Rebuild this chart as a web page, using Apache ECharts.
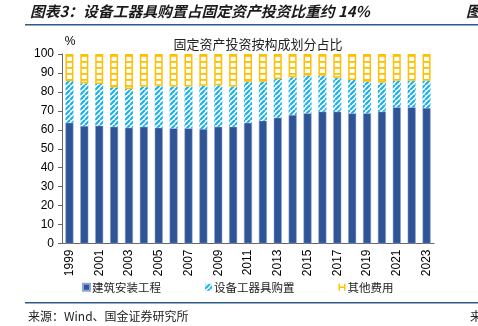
<!DOCTYPE html>
<html><head><meta charset="utf-8">
<script src="https://cdn.jsdelivr.net/npm/echarts@6/dist/echarts.min.js"></script>
<style>html,body{margin:0;padding:0;background:#fff}#c{width:478px;height:326px}</style>
</head><body><div id="c"></div>
<script>
const years = ['1999','2000','2001','2002','2003','2004','2005','2006','2007','2008','2009','2010','2011','2012','2013','2014','2015','2016','2017','2018','2019','2020','2021','2022','2023'];
const construction = [63.7,62.0,62.2,61.6,61.1,61.6,61.1,60.8,60.8,60.4,61.6,61.6,63.7,64.8,66.4,67.8,68.7,69.6,69.6,68.7,68.7,69.6,71.9,71.9,71.5];
const equipment = [22.0,22.5,22.0,20.8,20.4,21.2,22.2,22.0,22.0,22.9,21.9,21.2,21.7,20.6,20.4,19.9,19.9,19.0,17.9,17.6,16.7,15.3,14.0,14.0,14.4];
const other = [14.3,15.5,15.8,17.6,18.5,17.2,16.7,17.2,17.2,16.7,16.5,17.2,14.6,14.6,13.2,12.3,11.4,11.4,12.5,13.7,14.6,15.1,14.1,14.1,14.1];
const seriesNames = ['建筑安装工程','设备工器具购置','其他费用'];

function stripe(){
  const c=document.createElement('canvas');c.width=5;c.height=5;
  const g=c.getContext('2d');g.fillStyle='#fff';g.fillRect(0,0,5,5);
  g.strokeStyle='#1EB0E8';g.lineWidth=2.2;g.beginPath();
  for(const k of [-5,0,5,10]){g.moveTo(k-5,5);g.lineTo(k,0);}
  g.stroke();return c;
}
function ladder(){
  const c=document.createElement('canvas');c.width=4;c.height=6;
  const g=c.getContext('2d');g.fillStyle='#fff';g.fillRect(0,0,4,6);
  g.fillStyle='#FFC000';g.fillRect(0,1,4,1.8);return c;
}
const cjk='"Noto Sans CJK SC", sans-serif';
const chart=echarts.init(document.getElementById('c'));
chart.setOption({
  animation:false,
  title:{text:'固定资产投资按构成划分占比',left:253,top:33,textAlign:'center',
    textStyle:{fontFamily:cjk,fontSize:13,fontWeight:'normal',color:'#222'}},
  grid:{left:62,right:44,top:54,bottom:82.5},
  legend:{bottom:28,left:77,itemGap:44,itemWidth:7,itemHeight:7,
    textStyle:{fontFamily:cjk,fontSize:11.5,color:'#222',padding:[0,0,0,-3]},
    data:[{name:seriesNames[0],icon:'rect'},{name:seriesNames[1],icon:'rect'},
      {name:seriesNames[2],icon:'path://M0,0H2V4H8V0H10V10H8V6H2V10H0Z',itemStyle:{color:'#FFC000',borderWidth:0}}]},
  xAxis:{type:'category',data:years,
    axisLine:{lineStyle:{color:'#666'}},
    axisTick:{interval:1,length:4,lineStyle:{color:'#666'}},
    axisLabel:{interval:1,rotate:90,fontFamily:'"Liberation Sans", Arial',fontSize:12,color:'#000',margin:6}},
  yAxis:{type:'value',min:0,max:100,interval:10,name:'%',nameGap:6,
    nameTextStyle:{fontFamily:'"Liberation Sans", Arial',fontSize:12,color:'#000',padding:[0,0,0,16]},
    axisLine:{show:true,lineStyle:{color:'#666'}},axisTick:{show:true,length:4,lineStyle:{color:'#666'}},
    splitLine:{show:false},
    axisLabel:{fontFamily:'"Liberation Sans", Arial',fontSize:12,color:'#000',margin:8}},
  series:[
    {name:seriesNames[0],type:'bar',stack:'a',barWidth:8,data:construction,
      itemStyle:{color:'#2F5597',borderColor:'#8FA6D3',borderWidth:0.5}},
    {name:seriesNames[1],type:'bar',stack:'a',barWidth:8,data:equipment,
      itemStyle:{color:{image:stripe(),repeat:'repeat'}}},
    {name:seriesNames[2],type:'bar',stack:'a',barWidth:8,data:other,
      itemStyle:{color:{image:ladder(),repeat:'repeat'},borderColor:'#FFC000',borderWidth:1.5}}
  ],
  graphic:[
    {type:'text',left:30,top:4,style:{text:'图表3：设备工器具购置占固定资产投资比重约 14%',
      font:'italic bold 14.8px "Noto Sans CJK SC"',fill:'#1a1a1a'}},
    {type:'text',left:466,top:4,style:{text:'图',font:'italic bold 15px "Noto Sans CJK SC"',fill:'#1a1a1a'}},
    {type:'rect',shape:{x:25,y:24,width:460,height:1.5},style:{fill:'#2E5C8A'}},
    {type:'rect',shape:{x:25,y:302,width:460,height:1.5},style:{fill:'#2E5C8A'}},
    {type:'text',left:28,top:310,style:{text:'来源：Wind、国金证券研究所',font:'12px "Noto Sans CJK SC"',fill:'#222'}},
    {type:'text',left:470,top:310,style:{text:'来',font:'12px "Noto Sans CJK SC"',fill:'#222'}}
  ]
});
</script></body></html>
